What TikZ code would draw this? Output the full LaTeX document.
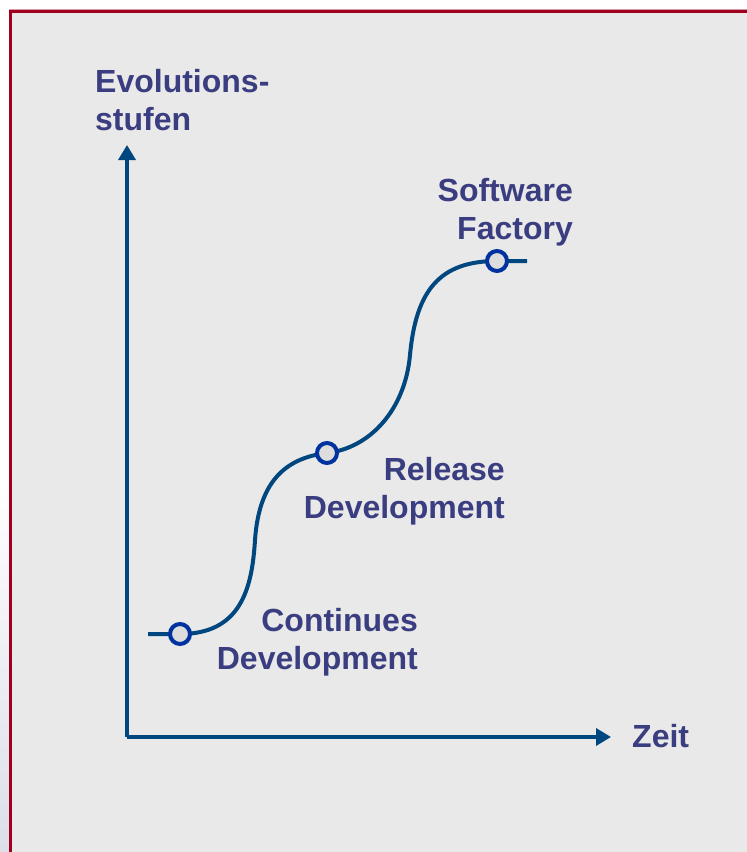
\documentclass[tikz,border=0pt]{standalone}
\usepackage{fontspec}
\setmainfont{Liberation Sans}
\usetikzlibrary{arrows.meta}
\definecolor{panel}{RGB}{233,233,233}
\definecolor{frame}{RGB}{160,0,32}
\definecolor{labeltext}{RGB}{58,62,128}
\definecolor{curveblue}{RGB}{0,70,127}
\definecolor{ringblue}{RGB}{0,51,160}
\definecolor{ringfill}{RGB}{221,221,221}
\definecolor{edgeshade}{RGB}{220,222,232}
\tikzset{
  axis/.style={line width=3.5pt, draw=curveblue, -{Triangle[width=17pt,length=15pt]}},
  growth/.style={line width=4pt, draw=curveblue},
  stage/.style={circle, minimum size=20pt, inner sep=0pt, line width=4pt, draw=ringblue, fill=ringfill},
  label/.style={text=labeltext, font=\bfseries\fontsize{32}{38}\selectfont, inner sep=0pt}
}
\begin{document}
\begin{tikzpicture}[x=1pt,y=-1pt]
  \useasboundingbox (0,0) rectangle (747,852);
  % page margin and framed panel
  \fill[white] (0,0) rectangle (747,852);
  \shade[top color=white, bottom color=edgeshade] (0,480) rectangle (9,852);
  \fill[panel] (10,11) rectangle (747,852);
  \draw[frame!40, line width=1pt] (9,9.5) -- (747,9.5);
  \draw[frame, line width=3pt] (10,852) -- (10,11) -- (747,11);

  % axes
  \coordinate (origin) at (127,737);
  \coordinate (ytip) at (127,145);
  \coordinate (xtip) at (611,737);
  \draw[axis] (origin) -- (ytip);
  \draw[axis] (origin) -- (xtip);

  % growth curve through the three stages
  \coordinate (start) at (148,634);
  \coordinate (p1) at (180,634);
  \coordinate (p2) at (327,453);
  \coordinate (p3) at (497,261);
  \coordinate (finish) at (527,261);
  \draw[growth] (start) -- (p1)
    .. controls (240,634) and (252,590) .. (255,540)
    .. controls (259,482) and (285,458) .. (p2)
    .. controls (370,448) and (405,410) .. (410,355)
    .. controls (416,290) and (440,261) .. (p3)
    -- (finish);

  % stage markers
  \node[stage] (c1) at (p1) {};
  \node[stage] (c2) at (p2) {};
  \node[stage] (c3) at (p3) {};

  % labels
  \node[label, anchor=west, align=left] (ylab) at (95,100) {Evolutions-\\stufen};
  \node[label, anchor=west] (xlab) at (632,736) {Zeit};
  \node[label, anchor=east, align=right] (l3) at (573,212) {Software\\Factory};
  \node[label, anchor=east, align=right] (l2) at (505,491) {Release\\Development};
  \node[label, anchor=east, align=right] (l1) at (418,642) {Continues\\Development};
\end{tikzpicture}
\end{document}
